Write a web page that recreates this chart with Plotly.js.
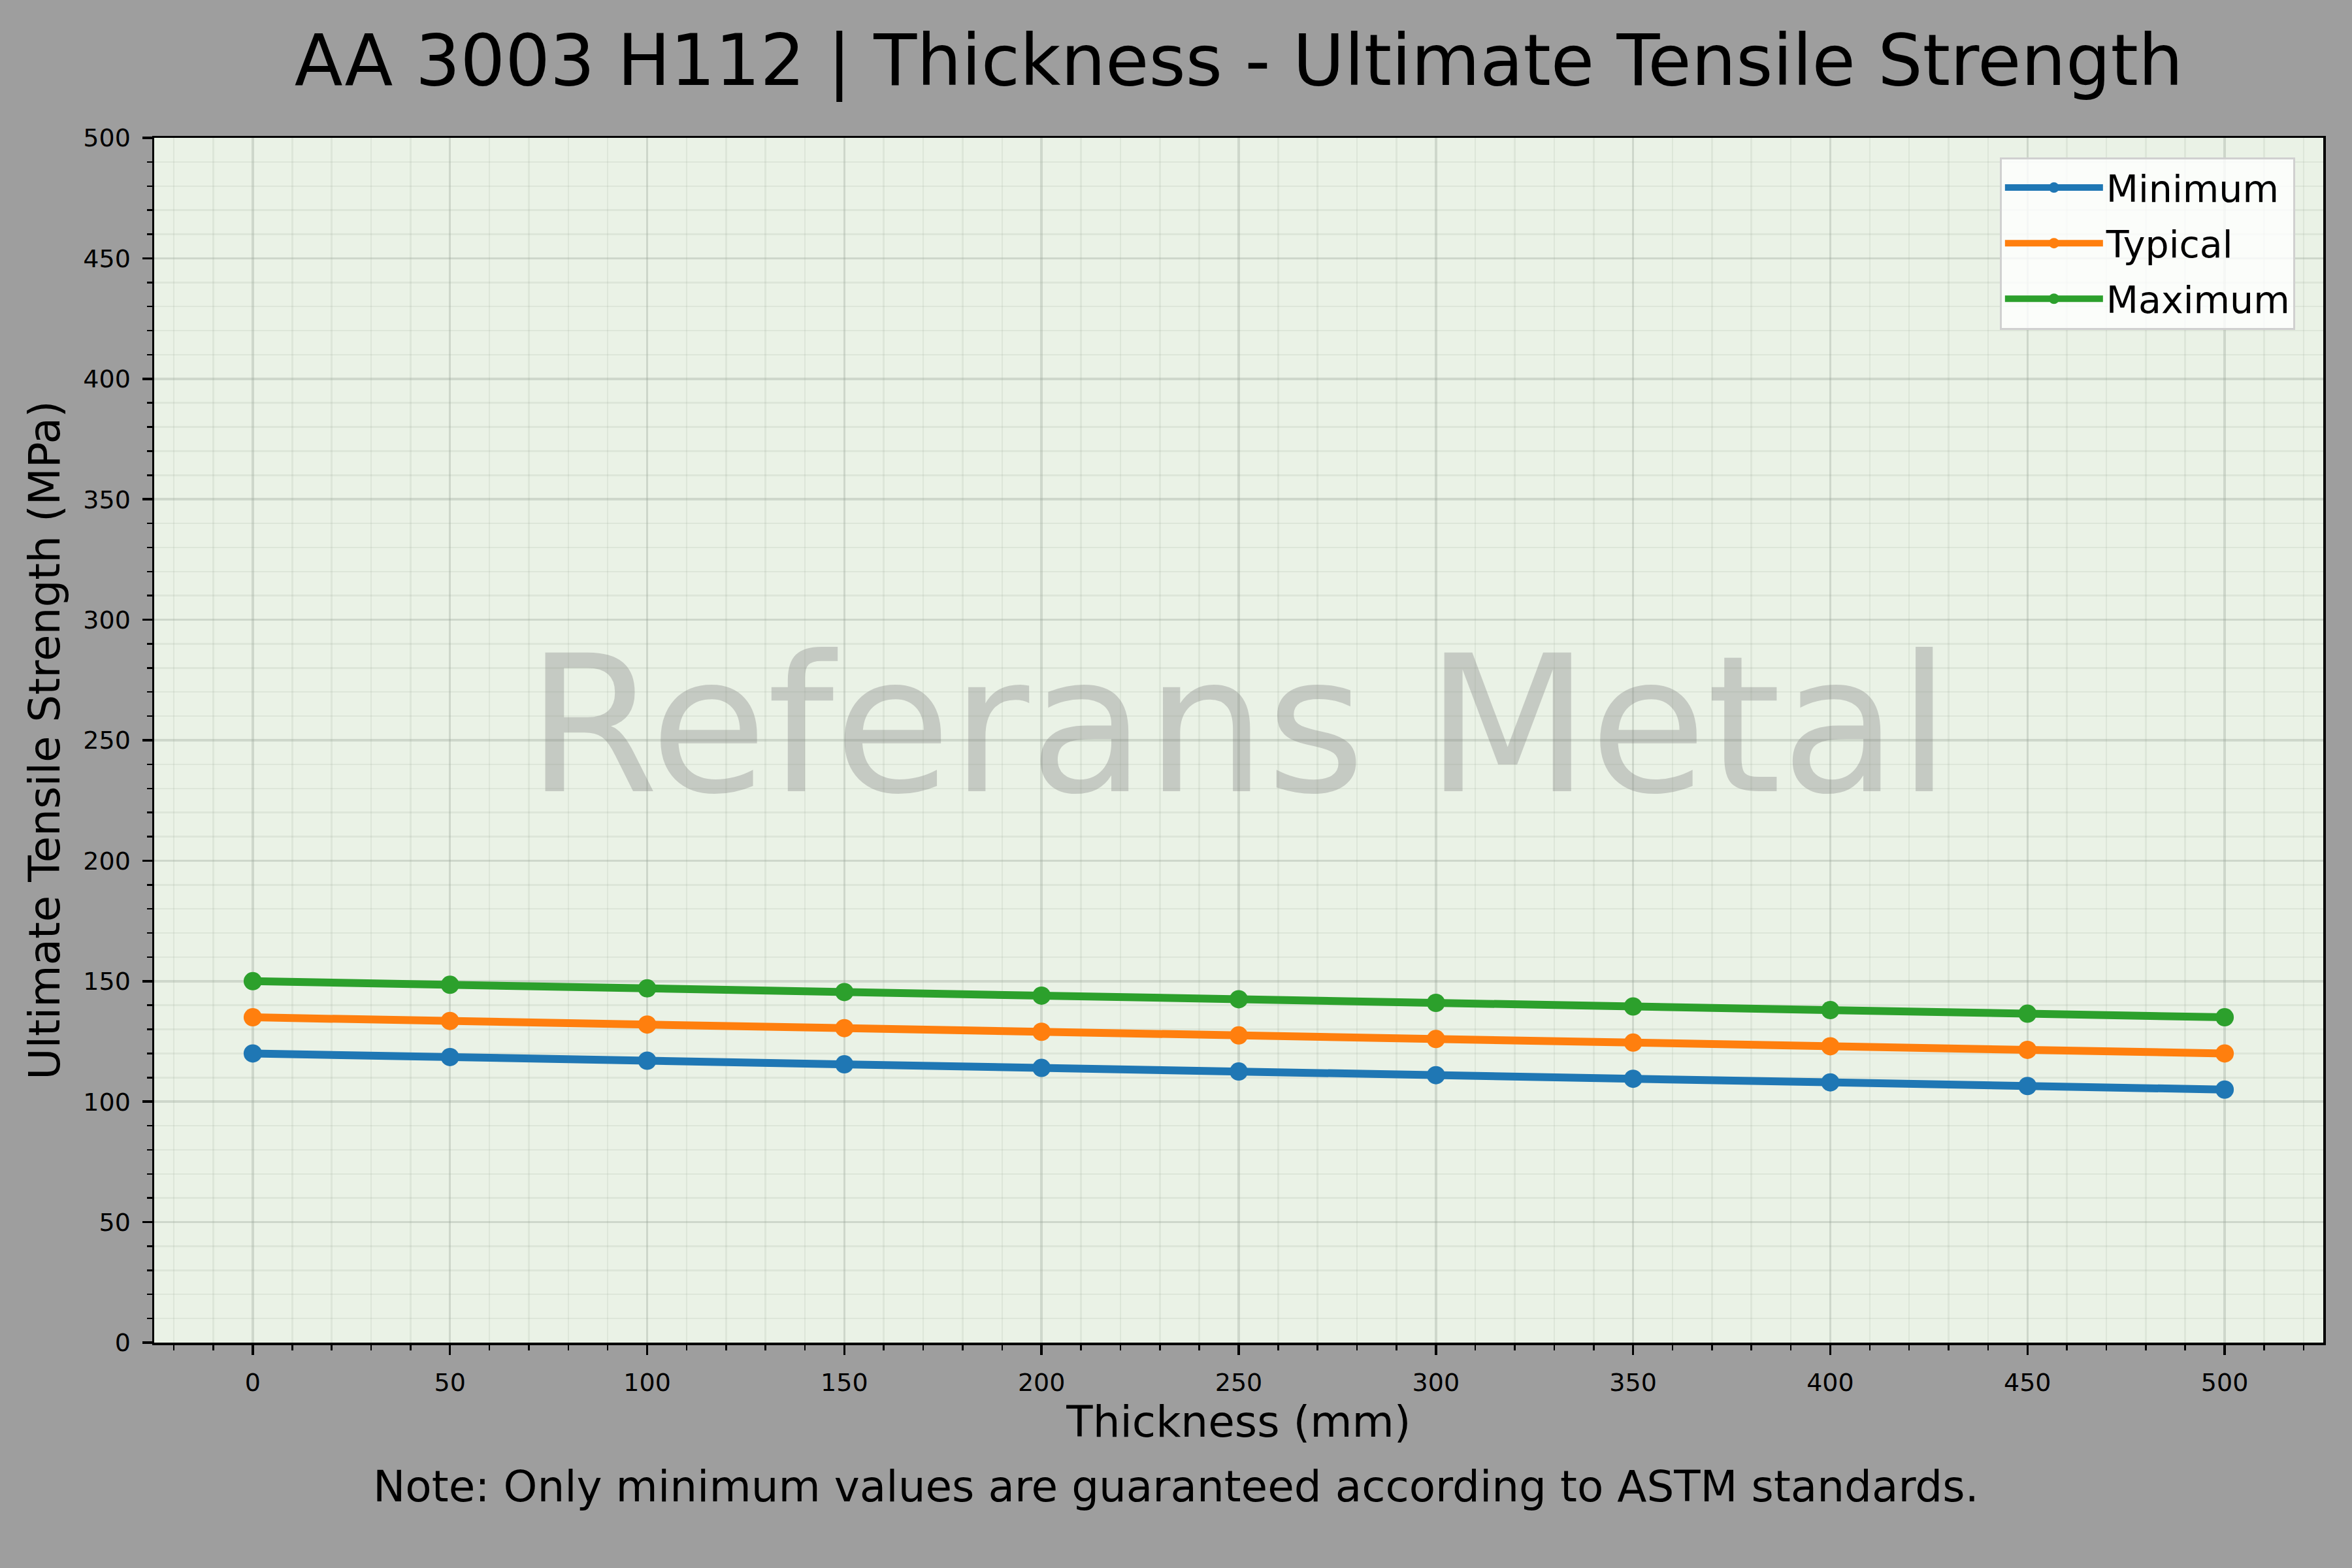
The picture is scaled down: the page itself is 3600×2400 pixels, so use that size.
<!DOCTYPE html>
<html>
<head>
<meta charset="utf-8">
<script src="https://cdn.plot.ly/plotly-3.0.1.min.js"></script>
<style>
  html, body { margin: 0; padding: 0; background: #9e9e9e; }
  #chart { width: 3600px; height: 2400px; }
</style>
</head>
<body>
<div id="chart"></div>
<script>
// thickness in mm, strength in MPa
var thickness = [0, 50, 100, 150, 200, 250, 300, 350, 400, 450, 500];
var minimum = [120, 118.5, 117, 115.5, 114, 112.5, 111, 109.5, 108, 106.5, 105];
var typical = [135, 133.5, 132, 130.5, 129, 127.5, 126, 124.5, 123, 121.5, 120];
var maximum = [150, 148.5, 147, 145.5, 144, 142.5, 141, 139.5, 138, 136.5, 135];
var names = ['Minimum', 'Typical', 'Maximum'];
var colors = ['#1f77b4', '#ff7f0e', '#2ca02c'];

var font = 'DejaVu Sans, sans-serif';

var series = [minimum, typical, maximum];
var traces = series.map(function(vals, i) {
  return {
    x: thickness, y: vals, name: names[i],
    legendgroup: 'g' + i,
    mode: 'lines+markers', type: 'scatter',
    line: {color: colors[i], width: 12},
    marker: {color: colors[i], size: 28}
  };
});

var axis = function() {
  return {
    showline: true, linecolor: 'black', linewidth: 3.5, mirror: true,
    ticks: 'outside', ticklen: 15, tickwidth: 3.5, tickcolor: 'black',
    tickfont: {family: font, size: 38, color: 'black'},
    ticklabelstandoff: 10,
    showgrid: true, gridcolor: 'rgba(150,160,150,0.33)', gridwidth: 3.5,
    zeroline: false,
    minor: {dtick: 10, ticks: 'outside', ticklen: 8, tickwidth: 2.5, tickcolor: 'black',
            showgrid: true, gridcolor: 'rgba(150,160,150,0.15)', gridwidth: 2.5}
  };
};

var xaxis = axis();
xaxis.range = [-25, 525];
xaxis.dtick = 50;
xaxis.tick0 = 0;
xaxis.title = {text: 'Thickness (mm)', font: {family: font, size: 66, color: 'black'}, standoff: 7};

var yaxis = axis();
yaxis.range = [0, 500];
yaxis.dtick = 50;
yaxis.title = {text: 'Ultimate Tensile Strength (MPa)', font: {family: font, size: 66, color: 'black'}, standoff: 15};

var layout = {
  width: 3600, height: 2400,
  paper_bgcolor: '#9e9e9e',
  plot_bgcolor: '#eaf2e6',
  margin: {l: 236, r: 44, t: 211, b: 345, autoexpand: false},
  title: {
    text: 'AA 3003 H112 | Thickness - Ultimate Tensile Strength',
    font: {family: font, size: 108, color: 'black'},
    x: 0.5, xref: 'paper', y: 1 - 92 / 2400, yref: 'container', yanchor: 'middle'
  },
  xaxis: xaxis,
  yaxis: yaxis,
  showlegend: true,
  legend: {
    x: 0.987, y: 0.984, xanchor: 'right', yanchor: 'top',
    bgcolor: 'rgba(255,255,255,0.8)', bordercolor: '#d0d0d0', borderwidth: 3,
    font: {family: font, size: 57, color: 'black'},
    traceorder: 'grouped', tracegroupgap: 8,
    itemwidth: 150
  },
  annotations: [
    {
      text: 'Referans Metal', xref: 'paper', yref: 'paper', x: 0.5, y: 0.512,
      xanchor: 'center', yanchor: 'middle', showarrow: false,
      font: {family: font, size: 291, color: 'rgba(128,128,128,0.35)'}
    },
    {
      text: 'Note: Only minimum values are guaranteed according to ASTM standards.',
      xref: 'paper', yref: 'paper', x: (1800 - 236) / 3320, y: 0, yshift: -220,
      xanchor: 'center', yanchor: 'middle', showarrow: false,
      font: {family: font, size: 66, color: 'black'}
    }
  ]
};

Plotly.newPlot('chart', traces, layout, {staticPlot: true});
</script>
</body>
</html>
